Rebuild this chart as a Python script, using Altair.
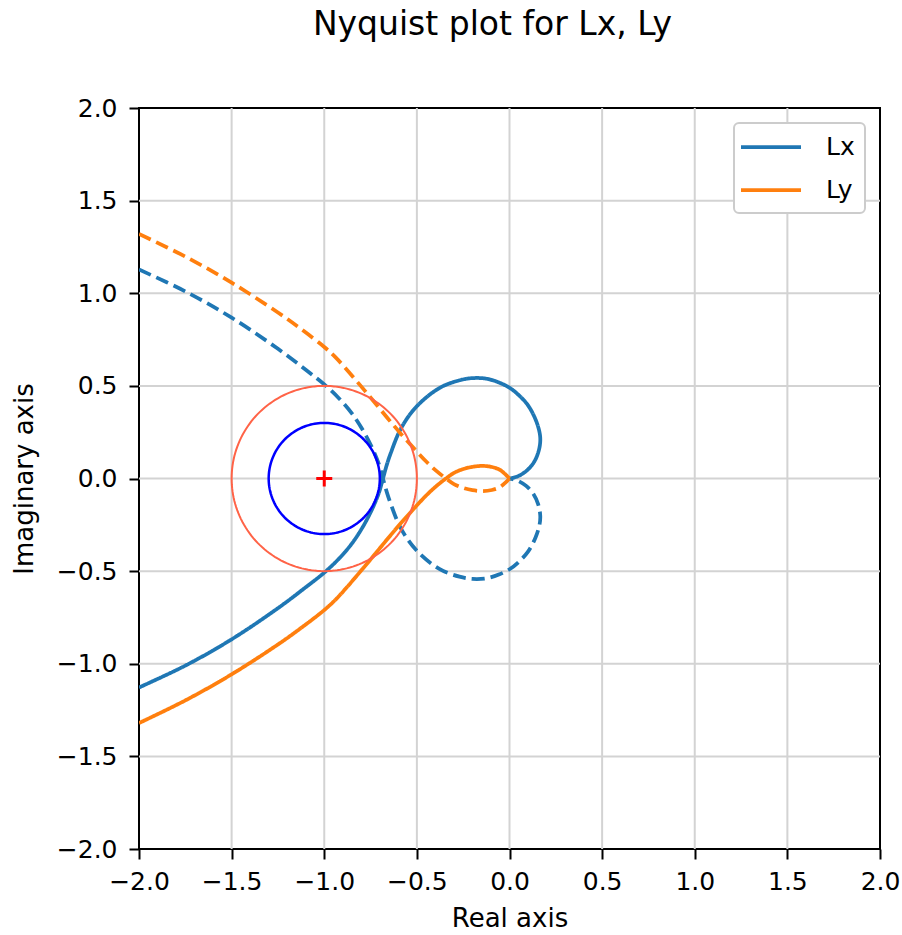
import altair as alt
import numpy as np
import pandas as pd

# ---- data (positive-frequency branch) ----
lx_re = [-2.0, -1.75, -1.5, -1.25, -1.1, -1.0, -0.92, -0.85, -0.79, -0.74, -0.705,
         -0.683, -0.662, -0.64, -0.587, -0.505, -0.379, -0.27, -0.199, -0.12, -0.054,
         0.0, 0.05, 0.1, 0.14, 0.162, 0.166, 0.155, 0.13, 0.09, 0.045, 0.0]
lx_im = [-1.128, -1.01, -0.868, -0.70, -0.587, -0.508, -0.432, -0.35, -0.258, -0.162, -0.077,
         0.0, 0.075, 0.14, 0.268, 0.385, 0.488, 0.53, 0.542, 0.538, 0.517,
         0.49, 0.45, 0.395, 0.32, 0.25, 0.2, 0.14, 0.085, 0.04, 0.012, 0.0]
ly_re = [-2.0, -1.75, -1.5, -1.25, -1.12, -1.0, -0.94, -0.884, -0.81, -0.74, -0.66, -0.587,
         -0.51, -0.451, -0.395, -0.343, -0.3, -0.253, -0.2, -0.144, -0.095, -0.054, -0.025, 0.0]
ly_im = [-1.32, -1.198, -1.057, -0.896, -0.803, -0.71, -0.655, -0.594, -0.508, -0.425, -0.328,
         -0.242, -0.156, -0.093, -0.041, 0.0, 0.03, 0.05, 0.063, 0.068, 0.062, 0.048, 0.025, 0.0]

series_names = ["Lx", "Ly"]
series_colors = ["#1f77b4", "#ff7f0e"]
tick_values = [-2.0, -1.5, -1.0, -0.5, 0.0, 0.5, 1.0, 1.5, 2.0]
grid_values = [-1.5, -1.0, -0.5, 0.0, 0.5, 1.0, 1.5]
circle_center = [-1.0, 0.0]
circle_radii = [0.5, 0.3]
circle_colors = ["tomato", "blue"]
circle_widths = [2.0, 2.5]

# ---- tables ----
rows = []
for name, re_, im_ in [("Lx", lx_re, lx_im), ("Ly", ly_re, ly_im)]:
    for i, (r, m) in enumerate(zip(re_, im_)):
        rows.append(dict(series=name, branch="pos", order=i, re=r, im=m))
    for i, (r, m) in enumerate(zip(re_, im_)):
        rows.append(dict(series=name, branch="neg", order=i, re=r, im=-m))
curves_df = pd.DataFrame(rows)

theta = np.linspace(0, 2 * np.pi, 181)

xs = alt.Scale(domain=[-2, 2], nice=False, zero=False)
ys = alt.Scale(domain=[-2, 2], nice=False, zero=False)
x_axis = alt.Axis(values=tick_values, format=".1f", title="Real axis", labelPadding=10,
                  labelFlush=False, labelOverlap=False, titleY=77.5, titleBaseline="alphabetic")
y_axis = alt.Axis(values=tick_values, format=".1f", title="Imaginary axis", labelPadding=12,
                  labelOverlap=False, titleX=-106.5, titleY=370.5, titleAngle=270,
                  titleAlign="center", titleBaseline="alphabetic")


def X(f):
    return alt.X(f, type="quantitative", scale=xs, axis=x_axis)


def Y(f):
    return alt.Y(f, type="quantitative", scale=ys, axis=y_axis)


grid_df = pd.DataFrame({"v": grid_values})
grid_x = alt.Chart(grid_df).mark_rule(color="#d3d3d3", strokeWidth=2).encode(x=X("v"))
grid_y = alt.Chart(grid_df).mark_rule(color="#d3d3d3", strokeWidth=2).encode(y=Y("v"))

curves = alt.Chart(curves_df).mark_line(strokeWidth=3.75, interpolate="catmull-rom", clip=True).encode(
    x=X("re"),
    y=Y("im"),
    color=alt.Color("series:N", scale=alt.Scale(domain=series_names, range=series_colors),
                    legend=alt.Legend(title=None, orient="top-right", offset=15,
                                      symbolType="M-2.5,0H2.5", symbolSize=576, symbolStrokeWidth=3.75,
                                      symbolOffset=13, labelFontSize=25, labelFont="DejaVu Sans",
                                      labelColor="black", labelOffset=41, rowPadding=16, padding=10,
                                      strokeColor="#cccccc", fillColor="white", cornerRadius=5)),
    strokeDash=alt.StrokeDash("branch:N", scale=alt.Scale(domain=["pos", "neg"], range=[[1, 0], [13, 6]]),
                              legend=None),
    order="order:Q",
)

circle_layers = []
for r, c, w in zip(circle_radii, circle_colors, circle_widths):
    cdf = pd.DataFrame({
        "re": circle_center[0] + r * np.cos(theta),
        "im": circle_center[1] + r * np.sin(theta),
        "order": np.arange(len(theta)),
    })
    circle_layers.append(
        alt.Chart(cdf).mark_line(color=c, strokeWidth=w, clip=True).encode(x=X("re"), y=Y("im"), order="order:Q")
    )

marker_df = pd.DataFrame({"re": [circle_center[0]], "im": [circle_center[1]]})
marker = alt.Chart(marker_df).mark_point(shape="M-1,0H1M0,-1V1", size=256, color="red",
                                         strokeWidth=3, filled=False, opacity=1).encode(x=X("re"), y=Y("im"))

chart = alt.layer(grid_x, grid_y, curves, *circle_layers, marker).properties(
    width=741,
    height=741,
    title=alt.TitleParams("Nyquist plot for Lx, Ly", fontSize=33, font="DejaVu Sans", fontWeight="normal",
                          color="black", anchor="middle", dx=-17, offset=28, baseline="alphabetic"),
    autosize=alt.AutoSizeParams(type="none"),
    padding={"left": 139, "top": 108, "right": 22, "bottom": 86},
).configure_view(
    stroke="black", strokeWidth=2
).configure_axis(
    domain=False, grid=False, labelFont="DejaVu Sans", labelFontSize=25, labelColor="black",
    tickColor="black", tickWidth=2, tickSize=10, titleFont="DejaVu Sans", titleFontSize=26,
    titleFontWeight="normal", titleColor="black"
).configure_legend(
    strokeWidth=2
)

chart.save("out.html", embed_options={"renderer": "svg", "actions": False})
